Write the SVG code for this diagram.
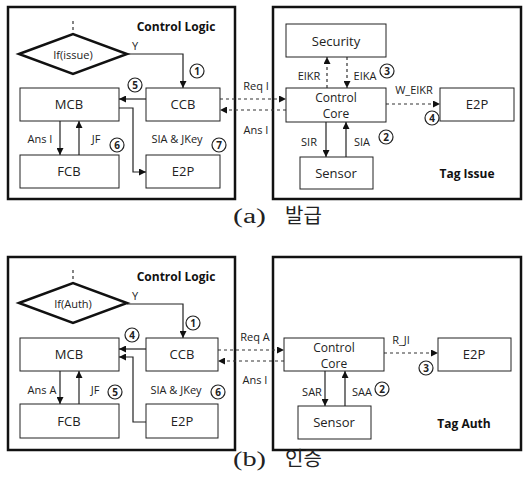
<svg xmlns="http://www.w3.org/2000/svg" width="524" height="477" viewBox="0 0 524 477">
<defs>
<marker id="ah" viewBox="0 0 10 10" refX="10" refY="5" markerWidth="7" markerHeight="7" orient="auto-start-reverse" markerUnits="userSpaceOnUse"><path d="M0,0 L10,5 L0,10 z" fill="#111"/></marker>
<style>
.frame{fill:#fff;stroke:#111;stroke-width:2.5}
.box{fill:#fff;stroke:#222;stroke-width:1}
.dia{fill:#fff;stroke:#111;stroke-width:2.5}
.ln{fill:none;stroke:#222;stroke-width:1.2}
.dl{fill:none;stroke:#333;stroke-width:1.2;stroke-dasharray:3,3}
.bt{font-family:"Open Sans","Noto Sans",sans-serif;font-size:13px;fill:#222;text-anchor:middle;dominant-baseline:central}
.bt2{font-family:"Open Sans","Noto Sans",sans-serif;font-size:12px;fill:#222;text-anchor:middle}
.lb{font-family:"Open Sans","Noto Sans",sans-serif;font-size:11px;fill:#222;text-anchor:middle;dominant-baseline:central}
.tt{font-family:"Open Sans","Noto Sans",sans-serif;font-size:12px;font-weight:bold;fill:#111;text-anchor:middle;dominant-baseline:central}
.cap{font-family:"Liberation Serif","Noto Sans CJK KR",serif;font-size:20px;fill:#222}
.cc{fill:#fff;stroke:#222;stroke-width:1.2}
.cn{font-family:"Open Sans","Noto Sans",sans-serif;font-size:10px;font-weight:bold;fill:#222;text-anchor:middle;dominant-baseline:central}
</style>
</defs>

<!-- ===== Panel (a) ===== -->
<g id="a-frame-left"><rect class="frame" x="8" y="7" width="227" height="192"/><text class="tt" x="176" y="26" font-size="13">Control Logic</text></g>
<g id="a-frame-right"><rect class="frame" x="273" y="7" width="248" height="192"/><text class="tt" x="467" y="173">Tag Issue</text></g>

<g id="a-connectors">
<line class="dl" x1="73" y1="21" x2="73" y2="34"/>
<polyline class="ln" points="127,54 183,54 183,88" marker-end="url(#ah)"/>
<line class="ln" x1="146" y1="99" x2="119" y2="99" marker-end="url(#ah)"/>
<polyline class="ln" points="119,108 133,108 133,172 146,172" marker-end="url(#ah)"/>
<line class="ln" x1="60" y1="121" x2="60" y2="155" marker-end="url(#ah)"/>
<line class="ln" x1="79" y1="155" x2="79" y2="121" marker-end="url(#ah)"/>
<line class="dl" x1="220" y1="99" x2="286" y2="99" marker-end="url(#ah)"/>
<line class="dl" x1="286" y1="110" x2="220" y2="110" marker-end="url(#ah)"/>
<line class="dl" x1="327" y1="88" x2="327" y2="57" marker-end="url(#ah)"/>
<line class="dl" x1="347" y1="57" x2="347" y2="88" marker-end="url(#ah)"/>
<line class="dl" x1="386" y1="104" x2="440" y2="104" marker-end="url(#ah)"/>
<line class="ln" x1="326" y1="122" x2="326" y2="157" marker-end="url(#ah)"/>
<line class="ln" x1="346" y1="157" x2="346" y2="122" marker-end="url(#ah)"/>
<text class="lb" x="135" y="45">Y</text>
<text class="lb" x="256" y="85">Req I</text>
<text class="lb" x="256" y="129">Ans I</text>
<text class="lb" x="40" y="138">Ans I</text>
<text class="lb" x="96" y="138">JF</text>
<text class="lb" x="177" y="138">SIA &amp; JKey</text>
<text class="lb" x="309" y="75">EIKR</text>
<text class="lb" x="365" y="75">EIKA</text>
<text class="lb" x="414" y="89">W_EIKR</text>
<text class="lb" x="309" y="141">SIR</text>
<text class="lb" x="362" y="141">SIA</text>
</g>

<g id="a-if"><polygon class="dia" points="19,54 73,34 127,54 73,74"/><text class="lb" x="73" y="54" font-size="12">If(issue)</text></g>
<g id="a-mcb"><rect class="box" x="20" y="88" width="99" height="33"/><text class="bt" x="69" y="104">MCB</text></g>
<g id="a-ccb"><rect class="box" x="146" y="88" width="74" height="33"/><text class="bt" x="183" y="104">CCB</text></g>
<g id="a-fcb"><rect class="box" x="20" y="155" width="99" height="33"/><text class="bt" x="69" y="171">FCB</text></g>
<g id="a-e2p"><rect class="box" x="146" y="155" width="74" height="33"/><text class="bt" x="183" y="171">E2P</text></g>
<g id="a-security"><rect class="box" x="286" y="24" width="100" height="33"/><text class="bt" x="336" y="41">Security</text></g>
<g id="a-core"><rect class="box" x="286" y="88" width="100" height="34"/><text class="bt2" x="336" y="102">Control</text><text class="bt2" x="336" y="118">Core</text></g>
<g id="a-e2p2"><rect class="box" x="440" y="88" width="74" height="33"/><text class="bt" x="477" y="104">E2P</text></g>
<g id="a-sensor"><rect class="box" x="300" y="157" width="73" height="32"/><text class="bt" x="336" y="173">Sensor</text></g>

<g id="a-nums">
<circle class="cc" cx="197" cy="71" r="7"/><text class="cn" x="197" y="71">1</text>
<circle class="cc" cx="386" cy="137" r="7"/><text class="cn" x="386" y="137">2</text>
<circle class="cc" cx="387" cy="71" r="7"/><text class="cn" x="387" y="71">3</text>
<circle class="cc" cx="432" cy="118" r="7"/><text class="cn" x="432" y="118">4</text>
<circle class="cc" cx="135" cy="85" r="7"/><text class="cn" x="135" y="85">5</text>
<circle class="cc" cx="117" cy="145" r="7"/><text class="cn" x="117" y="145">6</text>
<circle class="cc" cx="219" cy="145" r="7"/><text class="cn" x="219" y="145">7</text>
</g>
<g id="cap-a"><text class="cap" x="233" y="223" textLength="33" lengthAdjust="spacingAndGlyphs">(a)</text><text class="cap" x="285" y="223">발급</text></g>

<!-- ===== Panel (b) ===== -->
<g id="b-frame-left"><rect class="frame" x="8" y="257" width="227" height="193"/><text class="tt" x="176" y="276" font-size="13">Control Logic</text></g>
<g id="b-frame-right"><rect class="frame" x="273" y="257" width="248" height="193"/><text class="tt" x="464" y="423">Tag Auth</text></g>

<g id="b-connectors">
<line class="dl" x1="73" y1="270" x2="73" y2="283"/>
<polyline class="ln" points="127,304 183,304 183,338" marker-end="url(#ah)"/>
<line class="ln" x1="146" y1="349" x2="119" y2="349" marker-end="url(#ah)"/>
<polyline class="ln" points="146,422 133,422 133,357 119,357" marker-end="url(#ah)"/>
<line class="ln" x1="60" y1="371" x2="60" y2="404" marker-end="url(#ah)"/>
<line class="ln" x1="79" y1="404" x2="79" y2="371" marker-end="url(#ah)"/>
<line class="dl" x1="218" y1="350" x2="284" y2="350" marker-end="url(#ah)"/>
<line class="dl" x1="284" y1="361" x2="218" y2="361" marker-end="url(#ah)"/>
<line class="dl" x1="384" y1="353" x2="438" y2="353" marker-end="url(#ah)"/>
<line class="ln" x1="325" y1="371" x2="325" y2="406" marker-end="url(#ah)"/>
<line class="ln" x1="345" y1="406" x2="345" y2="371" marker-end="url(#ah)"/>
<text class="lb" x="135" y="295">Y</text>
<text class="lb" x="255" y="336">Req A</text>
<text class="lb" x="255" y="379">Ans I</text>
<text class="lb" x="42" y="389">Ans A</text>
<text class="lb" x="95" y="389">JF</text>
<text class="lb" x="176" y="389">SIA &amp; JKey</text>
<text class="lb" x="401" y="339">R_JI</text>
<text class="lb" x="312" y="391">SAR</text>
<text class="lb" x="362" y="391">SAA</text>
</g>

<g id="b-if"><polygon class="dia" points="19,303 73,283 127,303 73,323"/><text class="lb" x="73" y="303" font-size="12">If(Auth)</text></g>
<g id="b-mcb"><rect class="box" x="20" y="338" width="99" height="33"/><text class="bt" x="69" y="354">MCB</text></g>
<g id="b-ccb"><rect class="box" x="146" y="338" width="72" height="33"/><text class="bt" x="182" y="354">CCB</text></g>
<g id="b-fcb"><rect class="box" x="20" y="404" width="99" height="34"/><text class="bt" x="69" y="421">FCB</text></g>
<g id="b-e2p"><rect class="box" x="146" y="404" width="72" height="34"/><text class="bt" x="182" y="421">E2P</text></g>
<g id="b-core"><rect class="box" x="284" y="338" width="100" height="33"/><text class="bt2" x="334" y="352">Control</text><text class="bt2" x="334" y="368">Core</text></g>
<g id="b-e2p2"><rect class="box" x="438" y="338" width="73" height="33"/><text class="bt" x="474" y="354">E2P</text></g>
<g id="b-sensor"><rect class="box" x="298" y="406" width="73" height="33"/><text class="bt" x="334" y="422">Sensor</text></g>

<g id="b-nums">
<circle class="cc" cx="193" cy="323" r="7"/><text class="cn" x="193" y="323">1</text>
<circle class="cc" cx="382" cy="389" r="7"/><text class="cn" x="382" y="389">2</text>
<circle class="cc" cx="426" cy="368" r="7"/><text class="cn" x="426" y="368">3</text>
<circle class="cc" cx="132" cy="335" r="7"/><text class="cn" x="132" y="335">4</text>
<circle class="cc" cx="115" cy="392" r="7"/><text class="cn" x="115" y="392">5</text>
<circle class="cc" cx="218" cy="392" r="7"/><text class="cn" x="218" y="392">6</text>
</g>
<g id="cap-b"><text class="cap" x="233" y="466" textLength="33" lengthAdjust="spacingAndGlyphs">(b)</text><text class="cap" x="285" y="466">인증</text></g>
</svg>
